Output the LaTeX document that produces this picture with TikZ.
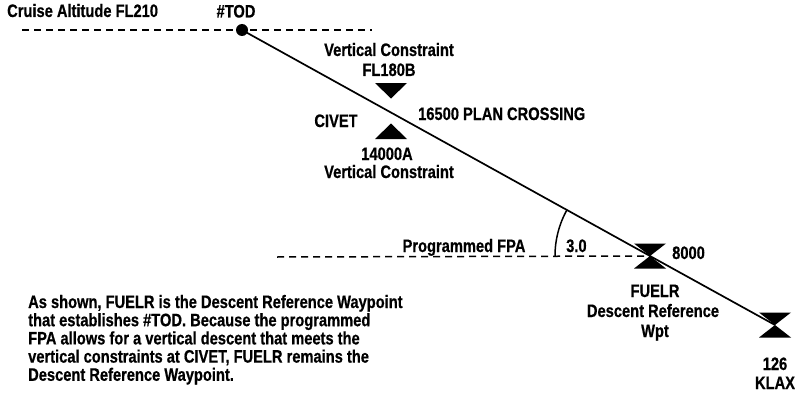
\documentclass[tikz,border=0pt]{standalone}
\usepackage{fontspec}
\setmainfont{Liberation Sans}[FakeStretch=0.815, FakeBold=0.6]
\begin{document}
\begin{tikzpicture}[x=1pt,y=-1pt,
  lbl/.style={inner sep=0pt, font=\fontsize{18}{18.2}\selectfont\bfseries},
  dashline/.style={line width=1.5pt, dash pattern=on 7pt off 5pt},
  pathline/.style={line width=1.7pt},
  hourglass/.pic={\fill (-16,-12.5) -- (16,-12.5) -- (-16,12.5) -- (16,12.5) -- cycle;}]
\useasboundingbox (0,0) rectangle (803,396);

% key points
\coordinate (tod) at (242,30);
\coordinate (fuelr) at (650,256);
\coordinate (klax) at (775,325);
\coordinate (cruiseL) at (22,30);
\coordinate (cruiseR) at (372,30);
\coordinate (fpaL) at (277,257);

% dashed reference lines
\draw[dashline] (cruiseL) -- (cruiseR);
\draw[dashline] (fpaL) -- (fuelr);

% CIVET constraint triangles
\fill (375,83) -- (407,83) -- (391,98.5) -- cycle;
\fill (375,139) -- (407,139) -- (391,123.5) -- cycle;

% hourglasses
\pic at (fuelr) {hourglass};
\pic at (klax) {hourglass};

% descent path
\draw[pathline] (tod) -- (fuelr) -- (klax);
\fill (tod) circle (6);

% FPA arc
\draw[line width=1.5pt] ([shift={(180:95)}]fuelr) arc[start angle=180, end angle=209, radius=95];

% labels
\node[lbl, anchor=base west] (cruise) at (7,17) {Cruise Altitude FL210};
\node[lbl, anchor=base] (todl) at (236,17.5) {\#TOD};
\node[lbl, anchor=base] (vc1) at (389,56) {Vertical Constraint};
\node[lbl, anchor=base] (fl180) at (389,76) {FL180B};
\node[lbl, anchor=base] (civet) at (336,127) {CIVET};
\node[lbl, anchor=base west] (plan) at (418,120) {16500 PLAN CROSSING};
\node[lbl, anchor=base] (a14) at (387,160) {14000A};
\node[lbl, anchor=base] (vc2) at (389,178) {Vertical Constraint};
\node[lbl, anchor=base] (pfpa) at (464,252) {Programmed FPA};
\node[lbl, anchor=base west] (three) at (566,252) {3.0};
\node[lbl, anchor=base west] (alt8) at (672,259) {8000};
\node[lbl, anchor=base] (fu1) at (655,297) {FUELR};
\node[lbl, anchor=base] (fu2) at (653,317) {Descent Reference};
\node[lbl, anchor=base] (fu3) at (655,337) {Wpt};
\node[lbl, anchor=base] (k1) at (775,370) {126};
\node[lbl, anchor=base] (k2) at (775,389) {KLAX};

% paragraph
\node[lbl, anchor=base west] (p1) at (28,308) {As shown, FUELR is the Descent Reference Waypoint};
\node[lbl, anchor=base west] (p2) at (28,326.2) {that establishes \#TOD. Because the programmed};
\node[lbl, anchor=base west] (p3) at (28,344.4) {FPA allows for a vertical descent that meets the};
\node[lbl, anchor=base west] (p4) at (28,362.6) {vertical constraints at CIVET, FUELR remains the};
\node[lbl, anchor=base west] (p5) at (28,380.8) {Descent Reference Waypoint.};
\end{tikzpicture}
\end{document}
